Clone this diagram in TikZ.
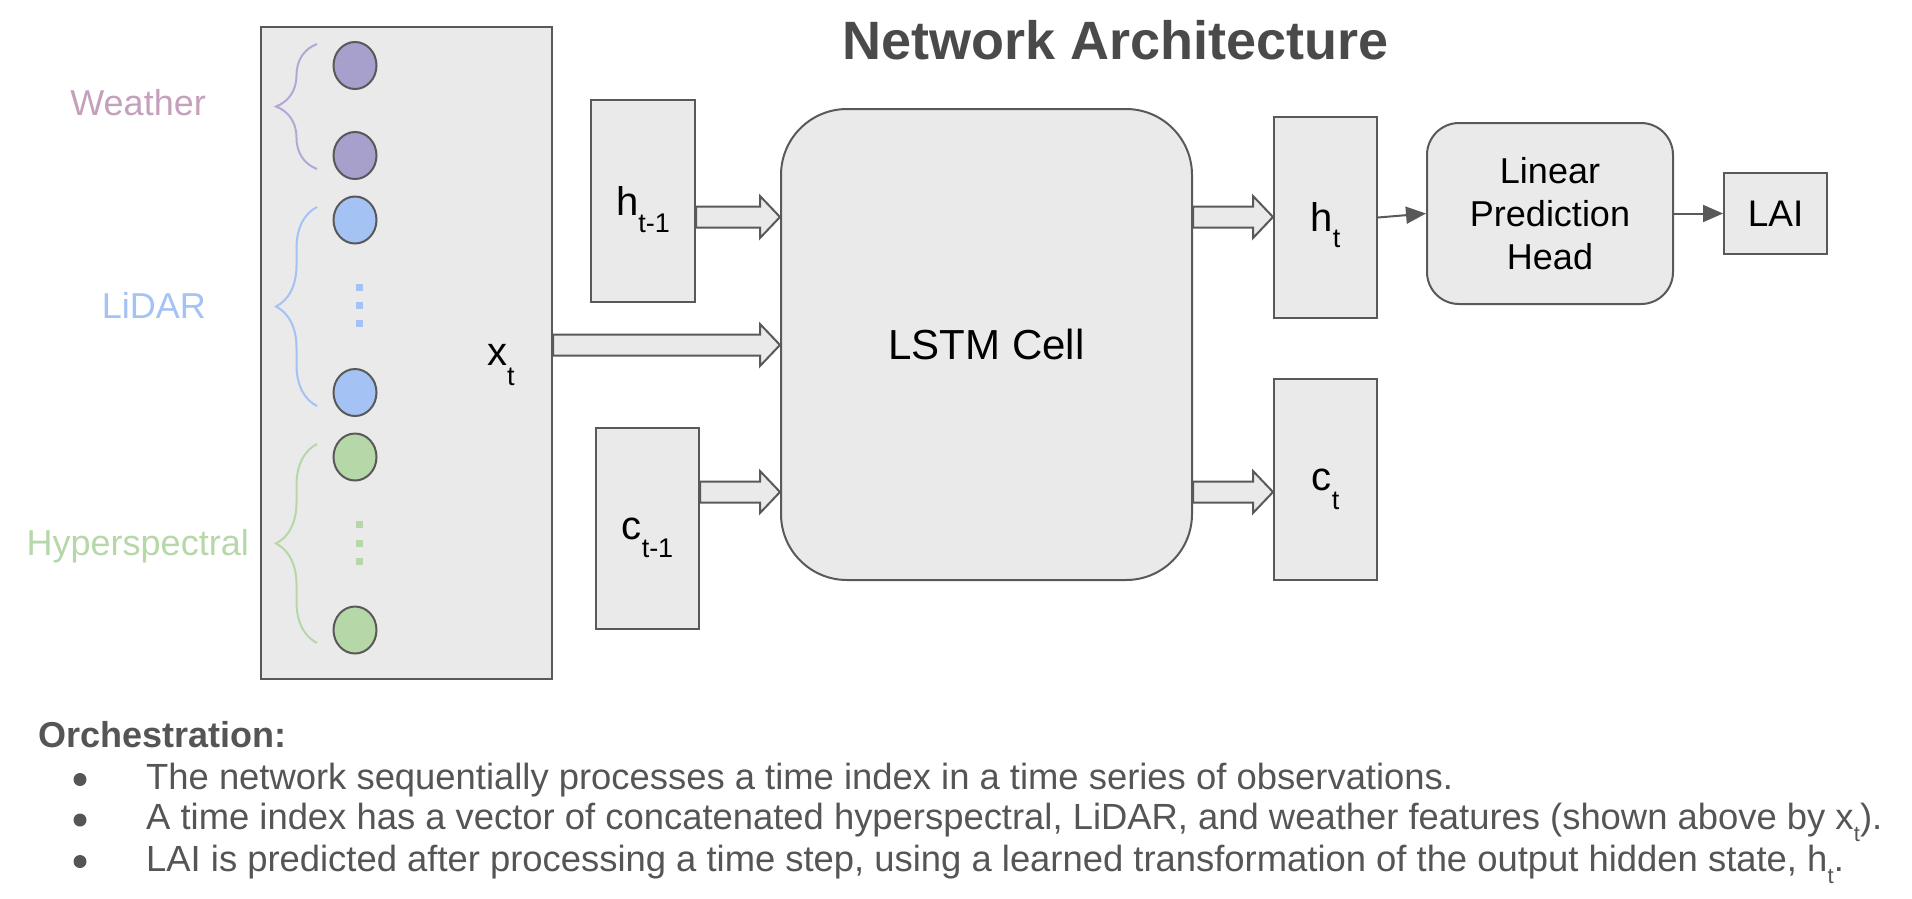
\documentclass[tikz,border=0pt]{standalone}
\usepackage{fontspec}
\setmainfont{Liberation Sans}
\usetikzlibrary{calc,shapes.geometric,decorations.pathreplacing,arrows.meta}

\definecolor{boxfill}{HTML}{EAEAEA}
\definecolor{boxline}{HTML}{595959}
\definecolor{txtgray}{HTML}{555555}
\definecolor{ttlgray}{HTML}{4A4A4A}
\definecolor{wthrtxt}{HTML}{C5A0BA}
\definecolor{wthrdot}{HTML}{A79FCC}
\definecolor{wthrbrace}{HTML}{B4A7D6}
\definecolor{lidar}{HTML}{A4C2F4}
\definecolor{hyper}{HTML}{B6D7A8}

\newcommand{\fs}[2]{\fontsize{#1}{#2}\selectfont}
\newcommand{\lsub}[2]{\smash{\raisebox{-#1}{\fs{27}{27}#2}}}
\newcommand{\fatarrow}[2]{\draw [bigarrow] let \p1=(#1), \p2=(#2) in
  (\x1,\y1+10.5pt) -- (\x2-20pt,\y1+10.5pt) -- (\x2-20pt,\y1+21pt) -- (\x2,\y1)
  -- (\x2-20pt,\y1-21pt) -- (\x2-20pt,\y1-10.5pt) -- (\x1,\y1-10.5pt) -- cycle;}

\begin{document}
\begin{tikzpicture}[x=1pt,y=1pt]
\begin{scope}

\tikzstyle{box} = [draw=boxline,fill=boxfill,line width=2pt,inner sep=0pt,font={\fs{40}{40}}];
\tikzstyle{cell} = [box,rounded corners=66pt,font={\fs{42}{42}}];
\tikzstyle{head} = [box,rounded corners=32pt,align=center,font={\fs{36}{43}}];
\tikzstyle{feat} = [ellipse,draw=boxline,line width=2pt,minimum width=43pt,minimum height=47pt,inner sep=0pt];
\tikzstyle{curly} = [decorate,decoration={brace,amplitude=41pt},line width=2pt];
\tikzstyle{grp} = [anchor=base east,inner sep=0pt,font={\fs{36}{36}}];
\tikzstyle{bigarrow} = [draw=boxline,fill=boxfill,line width=2pt];
\tikzstyle{link} = [-{Triangle[length=20pt,width=17pt]},draw=boxline,line width=2pt];
\tikzstyle{note} = [anchor=base west,inner sep=0pt,text=txtgray,font={\fs{36.4}{43}}];
\tikzstyle{dot} = [circle,fill=txtgray,minimum size=13pt,inner sep=0pt];

\useasboundingbox (0,0) rectangle (1912,-898);

\node [anchor=base,inner sep=0pt,text=ttlgray,font={\fs{54}{60}\bfseries}] (title) at (1116,-59) {Network Architecture};

% input vector
\node [box,minimum width=291pt,minimum height=652pt,anchor=north west] (xbox) at (260,-26) {};
\node [anchor=base west,inner sep=0pt,font={\fs{40}{40}}] (xt) at (487,-365) {x\lsub{20pt}{t}};

\node [feat,fill=wthrdot] (w1) at (355,-65.5) {};
\node [feat,fill=wthrdot] (w2) at (355,-155.5) {};
\node [feat,fill=lidar] (l1) at (355,-220) {};
\node [feat,fill=lidar] (l2) at (355,-392.5) {};
\node [feat,fill=hyper] (g1) at (355,-457) {};
\node [feat,fill=hyper] (g2) at (355,-630) {};

\foreach \y in {-287,-305,-323}
  \fill [lidar] (355.5,\y-3.5) rectangle +(7,7);
\foreach \y in {-524,-543,-561}
  \fill [hyper] (355.5,\y-3.5) rectangle +(7,7);

\draw [curly,draw=wthrbrace] (317,-169) -- (317,-44);
\draw [curly,draw=lidar] (317,-406) -- (317,-207);
\draw [curly,draw=hyper] (317,-643) -- (317,-444);

\node [grp,text=wthrtxt] (wlab) at (206,-115) {Weather};
\node [grp,text=lidar] (llab) at (206,-318) {LiDAR};
\node [grp,text=hyper] (glab) at (249,-555) {Hyperspectral};

% states and cell
\node [box,minimum width=104pt,minimum height=202pt,anchor=north west] (hprev) at (590,-99) {h\lsub{17pt}{t-1}};
\node [box,minimum width=103pt,minimum height=201pt,anchor=north west] (cprev) at (595,-427) {c\lsub{18pt}{t-1}};
\node [cell,minimum width=411pt,minimum height=471pt,anchor=north west] (lstm) at (780,-108) {LSTM Cell};
\node [box,minimum width=103pt,minimum height=201pt,anchor=north west] (ht) at (1273,-116) {h\lsub{16pt}{t}};
\node [box,minimum width=103pt,minimum height=201pt,anchor=north west] (ct) at (1273,-378) {c\lsub{19pt}{t}};
\node [head,minimum width=246pt,minimum height=181pt,anchor=north west] (lph) at (1426,-122) {Linear\\Prediction\\Head};
\node [box,minimum width=103pt,minimum height=81pt,anchor=north west,font={\fs{37}{37}}] (lai) at (1723,-172) {LAI};

\fatarrow{[yshift=-16pt]hprev.east}{lstm.west}
\fatarrow{[yshift=8pt]xbox.east}{lstm.west}
\fatarrow{[yshift=36.5pt]cprev.east}{lstm.west}
\fatarrow{[yshift=127.5pt]lstm.east}{ht.west}
\fatarrow{[yshift=-147.5pt]lstm.east}{ct.west}

\draw [link] (ht.east) -- (lph.west);
\draw [link] (lph.east) -- (lai.west);

% orchestration notes
\node [note,font={\fs{36}{43}\bfseries}] (orch) at (38,-747) {Orchestration:};
\node [dot] (b1) at (80,-779.5) {};
\node [dot] (b2) at (80,-820) {};
\node [dot] (b3) at (80,-861.5) {};
\node [note] (n1) at (146,-789) {The network sequentially processes a time index in a time series of observations.};
\node [note] (n2) at (146,-829.5) {A time index has a vector of concatenated hyperspectral, LiDAR, and weather features (shown above by x\smash{\raisebox{-12pt}{\fs{22}{22}t}}).};
\node [note] (n3) at (146,-871) {LAI is predicted after processing a time step, using a learned transformation of the output hidden state, h\smash{\raisebox{-12pt}{\fs{22}{22}t}}.};

\end{scope}
\end{tikzpicture}
\end{document}
